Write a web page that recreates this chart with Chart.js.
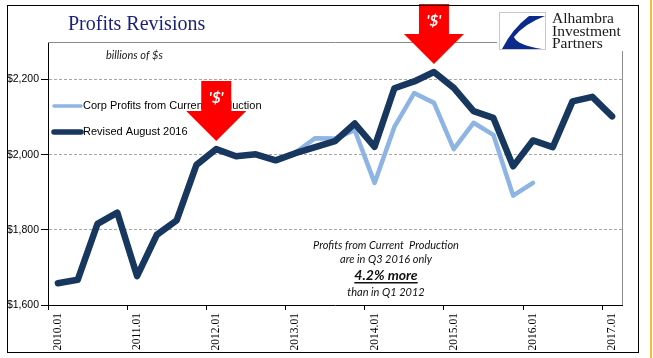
<!DOCTYPE html>
<html>
<head>
<meta charset="utf-8">
<script src="https://cdn.jsdelivr.net/npm/chart.js@4.4.0/dist/chart.umd.min.js"></script>
<style>
    html, body { margin: 0; padding: 0; background: #fff; }
    canvas { display: block; }
</style>
</head>
<body>
<canvas id="chart-profits" width="653" height="358"></canvas>
<script>
// ═══════════════════════════════════════════════════════════════
// Profits Revisions — quarterly corporate profits, billions of $
// ═══════════════════════════════════════════════════════════════

const quarters = [
    '2010.01', '2010.02', '2010.03', '2010.04',
    '2011.01', '2011.02', '2011.03', '2011.04',
    '2012.01', '2012.02', '2012.03', '2012.04',
    '2013.01', '2013.02', '2013.03', '2013.04',
    '2014.01', '2014.02', '2014.03', '2014.04',
    '2015.01', '2015.02', '2015.03', '2015.04',
    '2016.01', '2016.02', '2016.03', '2016.04',
    '2017.01'
];

const currentProduction = [
    1658, 1667, 1816, 1846, 1677, 1787, 1825, 1973,
    2015, 1996, 2001, 1985, 2006, 2044, 2043, 2065,
    1925, 2074, 2164, 2138, 2015, 2085, 2053, 1891,
    1925
];

const revisedAug2016 = [
    1658, 1667, 1816, 1846, 1677, 1787, 1825, 1973,
    2015, 1996, 2001, 1985, 2004, 2020, 2036, 2083,
    2021, 2177, 2195, 2220, 2178, 2116, 2098, 1969,
    2038, 2020, 2142, 2154, 2102
];

const yTicks = [1600, 1800, 2000, 2200];
const arrowAt = [8, 19];      // quarters the red arrows point at
const arrowLabel = "'$'";
const noteLines = ['Profits from Current  Production', 'are in Q3 2016 only', '4.2% more', 'than in Q1 2012'];

const colors = {
    light: '#8DB4E2',
    dark: '#17375E',
    red: '#FF0000',
    title: '#1A1F7A'
};

// ─── Custom decorations (legend, arrows, notes, logo) ──────
const decorations = {
    id: 'decorations',
    beforeDatasetsDraw(chart) {
        const { ctx, chartArea } = chart;
        ctx.save();
        ctx.strokeStyle = '#8c8c8c';
        ctx.lineWidth = 1;
        ctx.beginPath();
        ctx.moveTo(chartArea.left, chartArea.top + 0.5);
        ctx.lineTo(chartArea.right + 0.5, chartArea.top + 0.5);
        ctx.lineTo(chartArea.right + 0.5, chartArea.bottom);
        ctx.stroke();
        ctx.restore();
    },
    afterDatasetsDraw(chart) {
        const { ctx } = chart;
        const xs = chart.scales.x;
        const ys = chart.scales.y;

        // legend
        ctx.save();
        chart.data.datasets.forEach((ds, i) => {
            const y = 106 + i * 26;
            ctx.strokeStyle = ds.borderColor;
            ctx.lineWidth = ds.borderWidth - 1;
            ctx.lineCap = 'round';
            ctx.beginPath();
            ctx.moveTo(54, y);
            ctx.lineTo(81, y);
            ctx.stroke();
            ctx.fillStyle = '#000';
            ctx.font = '11px "Liberation Sans", Arial, sans-serif';
            ctx.textBaseline = 'middle';
            ctx.textAlign = 'left';
            ctx.fillText(ds.label, 83, y);
        });

        // note
        ctx.fillStyle = '#111';
        ctx.textAlign = 'center';
        ctx.textBaseline = 'middle';
        const cx = 386;
        ctx.font = 'italic 11px Lato, "Open Sans", sans-serif';
        ctx.fillText(noteLines[0], cx, 245);
        ctx.fillText(noteLines[1], cx, 259);
        ctx.font = 'italic bold 14px Lato, "Open Sans", sans-serif';
        ctx.fillText(noteLines[2], cx, 275);
        const w = ctx.measureText(noteLines[2]).width;
        ctx.fillRect(cx - w / 2, 282, w, 1.5);
        ctx.font = 'italic 11px Lato, "Open Sans", sans-serif';
        ctx.fillText(noteLines[3], cx, 292);

        // red arrows
        arrowAt.forEach(idx => {
            const ax = xs.getPixelForValue(idx);
            const tip = ys.getPixelForValue(revisedAug2016[idx]) - 8;
            ctx.fillStyle = colors.red;
            ctx.beginPath();
            ctx.moveTo(ax - 15, tip - 60);
            ctx.lineTo(ax + 15, tip - 60);
            ctx.lineTo(ax + 15, tip - 30);
            ctx.lineTo(ax + 30, tip - 30);
            ctx.lineTo(ax, tip);
            ctx.lineTo(ax - 30, tip - 30);
            ctx.lineTo(ax - 15, tip - 30);
            ctx.closePath();
            ctx.fill();
            ctx.fillStyle = '#fff';
            ctx.font = 'italic bold 15px Lato, "Open Sans", sans-serif';
            ctx.fillText(arrowLabel, ax, tip - 43);
        });
        ctx.restore();
    },
    afterDraw(chart) {
        const { ctx } = chart;
        ctx.save();

        // title + unit
        ctx.fillStyle = colors.title;
        ctx.font = '20px "Liberation Serif", "Times New Roman", serif';
        ctx.textBaseline = 'alphabetic';
        ctx.textAlign = 'left';
        ctx.fillText('Profits Revisions', 68, 30);
        ctx.fillStyle = '#1a1a1a';
        ctx.font = 'italic 11px Lato, "Open Sans", sans-serif';
        ctx.fillText('billions of $s', 106, 59);

        // logo
        ctx.fillStyle = '#fff';
        ctx.fillRect(497, 9, 130, 42);
        ctx.strokeStyle = '#c8c8c8';
        ctx.lineWidth = 1;
        ctx.strokeRect(499.5, 12.5, 46, 37);
        ctx.fillStyle = '#0b2a8c';
        ctx.beginPath();
        ctx.moveTo(545, 16);
        ctx.lineTo(529, 16);
        ctx.quadraticCurveTo(512, 29, 502, 49);
        ctx.lineTo(542, 49);
        ctx.quadraticCurveTo(517, 45, 514, 37);
        ctx.quadraticCurveTo(524, 24, 545, 16);
        ctx.closePath();
        ctx.fill();
        ctx.fillStyle = '#1a1a1a';
        ctx.font = '15.5px "Liberation Serif", "Times New Roman", serif';
        ctx.fillText('Alhambra', 552, 23);
        ctx.fillText('Investment', 552, 36);
        ctx.fillText('Partners', 552, 48);

        // frame
        ctx.strokeStyle = '#000';
        ctx.lineWidth = 1;
        ctx.strokeRect(7.5, 5.5, 631, 347);
        ctx.fillStyle = '#F0BE3C';
        ctx.fillRect(650, 0, 2, 358);
        ctx.restore();
    }
};

// ─── Chart ──────────────────────────────────────────────────
const profitsCtx = document.getElementById('chart-profits');
const profitsChart = new Chart(profitsCtx, {
    type: 'line',
    data: {
        labels: quarters,
        datasets: [
            {
                label: 'Corp Profits from Current Production',
                data: currentProduction,
                borderColor: colors.light,
                backgroundColor: colors.light,
                borderWidth: 4.5,
                order: 1
            },
            {
                label: 'Revised August 2016',
                data: revisedAug2016,
                borderColor: colors.dark,
                backgroundColor: colors.dark,
                borderWidth: 6.5,
                order: 0
            }
        ]
    },
    options: {
        responsive: false,
        animation: false,
        events: [],
        layout: { padding: { top: 42, right: 31, left: 0, bottom: 0 } },
        elements: {
            point: { radius: 0 },
            line: { tension: 0, borderJoinStyle: 'round', borderCapStyle: 'round' }
        },
        plugins: {
            legend: { display: false },
            tooltip: { enabled: false }
        },
        scales: {
            x: {
                offset: true,
                afterFit: s => { s.height = 53; },
                grid: {
                    offset: true,
                    drawOnChartArea: false,
                    tickLength: 5,
                    tickColor: c => (c.index % 4 === 0 ? '#000' : 'rgba(0,0,0,0)')
                },
                border: { color: '#000', width: 1 },
                ticks: {
                    autoSkip: false,
                    maxRotation: 90,
                    minRotation: 90,
                    padding: 3,
                    color: '#000',
                    font: { family: '"Liberation Serif", "Times New Roman", serif', size: 11.5 },
                    callback: (v, i) => (i % 4 === 0 ? quarters[i] : '')
                }
            },
            y: {
                min: 1600,
                max: 2300,
                afterFit: s => { s.width = 48; },
                afterBuildTicks: s => { s.ticks = yTicks.map(v => ({ value: v })); },
                grid: {
                    color: c => (c.tick && c.tick.value === 1600 ? 'rgba(0,0,0,0)' : '#a6a6a6'),
                    tickColor: '#000',
                    tickLength: 7,
                    borderDash: [3, 2]
                },
                border: { color: '#000', width: 1, dash: [3, 2] },
                ticks: {
                    padding: 2,
                    color: '#000',
                    font: { family: '"Liberation Sans", Arial, sans-serif', size: 10.5 },
                    callback: v => '$' + v.toLocaleString('en-US')
                }
            }
        }
    },
    plugins: [decorations]
});
</script>
</body>
</html>
